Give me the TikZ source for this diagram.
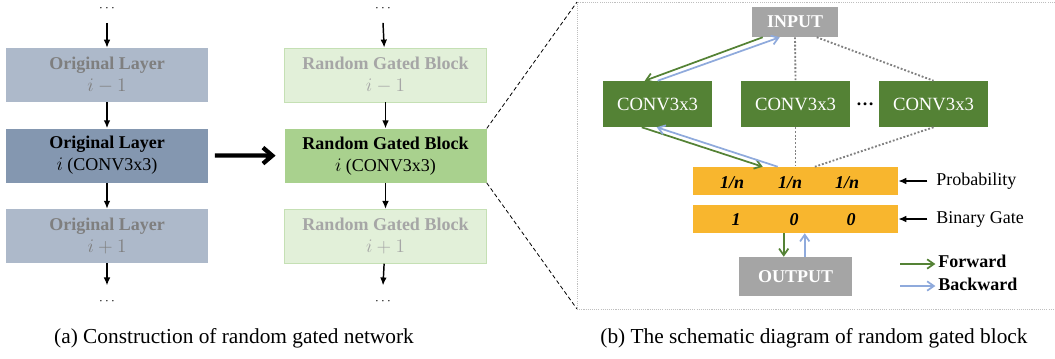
\documentclass[tikz,border=0pt]{standalone}
\usepackage{fontspec}
\setmainfont{Liberation Serif}
\usetikzlibrary{arrows.meta,positioning,calc}
\definecolor{OrigPale}{HTML}{ADB9CA}
\definecolor{OrigDark}{HTML}{8497B0}
\definecolor{GatePale}{HTML}{E2F0D9}
\definecolor{GateEdge}{HTML}{C5E0B4}
\definecolor{GateMid}{HTML}{A9D18E}
\definecolor{ConvGreen}{HTML}{548235}
\definecolor{BoxGrey}{HTML}{A5A5A5}
\definecolor{FadeOne}{HTML}{7F7F7F}
\definecolor{FadeTwo}{HTML}{A6A6A6}
\definecolor{BarOrange}{HTML}{F8B62E}
\definecolor{Fwd}{HTML}{548235}
\definecolor{Bwd}{HTML}{8FAADC}
\definecolor{LinkGrey}{HTML}{808080}
\definecolor{FrameGrey}{HTML}{BFBFBF}
\newcommand{\figfont}{\fontsize{13.5pt}{16.5pt}\selectfont}
\newcommand{\capfont}{\fontsize{16pt}{19pt}\selectfont}
\tikzset{
  layer/.style={
    minimum width=151.5pt, minimum height=40.5pt, inner sep=0pt,
    align=center, font=\figfont\bfseries
  },
  origLayer/.style={layer,fill=OrigPale,text=FadeOne},
  origLayerStrong/.style={layer,fill=OrigDark},
  gateLayer/.style={layer,fill=GatePale,draw=GateEdge,line width=.6pt,text=FadeTwo},
  gateLayerStrong/.style={layer,fill=GateMid},
  conv/.style={fill=ConvGreen,text=white,minimum width=81.75pt,minimum height=34.5pt,
    inner sep=0pt,font=\fontsize{14pt}{16pt}\selectfont},
  greyBox/.style={fill=BoxGrey,text=white,inner sep=0pt,font=\figfont\bfseries},
  bar/.style={fill=BarOrange,minimum width=153.75pt,minimum height=21pt,inner sep=0pt},
  cell/.style={font=\figfont\bfseries\itshape,inner sep=0pt},
  lbl/.style={font=\figfont,inner sep=0pt,anchor=west},
  arr/.style={-{Latex[length=6pt,width=5pt]},line width=1.1pt},
  bigArr/.style={-{Straight Barb[length=7pt,width=12pt]},line width=3.2pt},
  fwd/.style={-{Straight Barb[length=5pt,width=7pt]},draw=Fwd,line width=1.3pt},
  bwd/.style={-{Straight Barb[length=5pt,width=7pt]},draw=Bwd,line width=1.3pt},
  link/.style={draw=LinkGrey,line width=1.4pt,dash pattern=on 1.4pt off 1.4pt},
  zoomLine/.style={line width=.6pt,dash pattern=on 3pt off 2pt},
  frameLine/.style={draw=FrameGrey,line width=.6pt,dash pattern=on .8pt off .8pt}
}
\begin{document}
\begin{tikzpicture}[x=0.75pt,y=-0.75pt,node distance=19.5pt]
  \useasboundingbox (0,0) rectangle (1055,358);
  % (a) original network
  \node[origLayer] (origA) at (107,75) {Original Layer\\$i-1$};
  \node[origLayerStrong,below=of origA] (origB) {Original Layer\\\normalfont$i$ (CONV3x3)};
  \node[origLayer,below=of origB] (origC) {Original Layer\\$i+1$};
  \node[inner sep=0pt] (origTop) at (107,9) {$\cdots$};
  \node[inner sep=0pt] (origEnd) at (107,302) {$\cdots$};
  \draw[arr] ([yshift=-8pt]origTop.south) -- (origA);
  \draw[arr] (origA) -- (origB);
  \draw[arr] (origB) -- (origC);
  \draw[arr] (origC) -- ([yshift=10pt]origEnd.north);
  % random gated network
  \node[gateLayer] (gateA) at (385.5,75) {Random Gated Block\\$i-1$};
  \node[gateLayerStrong,below=of gateA] (gateB) {Random Gated Block\\\normalfont$i$ (CONV3x3)};
  \node[gateLayer,below=of gateB] (gateC) {Random Gated Block\\$i+1$};
  \node[inner sep=0pt] (gateTop) at (383,9) {$\cdots$};
  \node[inner sep=0pt] (gateEnd) at (383,302) {$\cdots$};
  \draw[arr] ([yshift=-8pt]gateTop.south) -- (gateA);
  \draw[arr] (gateA) -- (gateB);
  \draw[arr] (gateB) -- (gateC);
  \draw[arr] (gateC) -- ([yshift=10pt]gateEnd.north);
  \draw[bigArr,shorten <=5pt,shorten >=6.5pt] (origB) -- (gateB);
  % (b) zoomed block
  \coordinate (frameTop) at (577,2);
  \coordinate (frameBot) at (577,309);
  \draw[frameLine] (1055,2) -- (frameTop) -- (frameBot) -- (1055,309);
  \draw[zoomLine] (gateB.north east) -- (frameTop);
  \draw[zoomLine] (gateB.south east) -- (frameBot);
  \node[greyBox,minimum width=64.5pt,minimum height=22.5pt] (input) at (795,22) {INPUT};
  \node[conv] (convA) at (657.5,104) {CONV3x3};
  \node[conv] (convB) at (795.5,104) {CONV3x3};
  \node[conv] (convC) at (933.5,104) {CONV3x3};
  \node[inner sep=0pt,font=\figfont\bfseries] (convDots) at (865,104) {\dots};
  \node[bar] (probBar) at (795.5,181) {};
  \node[bar] (gateBar) at (795.5,219) {};
  \node[cell] (pA) at (732,183) {1/n};
  \node[cell] (pB) at (790,183) {1/n};
  \node[cell] (pC) at (847,183) {1/n};
  \node[cell] (bA) at (736,220) {1};
  \node[cell] (bB) at (794,220) {0};
  \node[cell] (bC) at (851,220) {0};
  \node[greyBox,minimum width=84.75pt,minimum height=29.25pt] (output) at (795.5,276.5) {OUTPUT};
  \draw[link] (input.south) -- (convB.north);
  \draw[link] ([xshift=48.75pt]input.south west) -- (convC.north);
  \draw[link] (convB.south) -- (probBar.north);
  \draw[link] (convC.south) -- ([xshift=91.5pt]probBar.north west);
  \draw[fwd] ([xshift=8.25pt]input.south west) -- ([xshift=31.5pt]convA.north west);
  \draw[bwd] ([xshift=41.25pt]convA.north west) -- ([xshift=21pt]input.south west);
  \draw[fwd] ([xshift=29.25pt]convA.south west) -- ([xshift=52.5pt]probBar.north west);
  \draw[bwd] ([xshift=63.75pt]probBar.north west) -- ([xshift=40.5pt]convA.south west);
  \draw[fwd] ([xshift=68.25pt]gateBar.south west) -- ([xshift=33.75pt]output.north west);
  \draw[bwd] ([xshift=49.5pt]output.north west) -- ([xshift=84pt]gateBar.south west);
  \node[lbl] (probLbl) at (936,181) {Probability};
  \node[lbl] (gateLbl) at (936,219) {Binary Gate};
  \draw[arr,shorten <=6.5pt] (probLbl.west) -- (probBar.east);
  \draw[arr,shorten <=6.5pt] (gateLbl.west) -- (gateBar.east);
  \node[lbl,font=\figfont\bfseries] (fwdLbl) at (938,261) {Forward};
  \node[lbl,font=\figfont\bfseries] (bwdLbl) at (938,284) {Backward};
  \coordinate (fwdTail) at (900,264);
  \coordinate (bwdTail) at (900,286);
  \draw[fwd,shorten >=2pt] (fwdTail) -- (fwdTail -| fwdLbl.west);
  \draw[bwd,shorten >=2pt] (bwdTail) -- (bwdTail -| bwdLbl.west);
  % captions
  \node[font=\capfont] (capA) at (234,338) {(a) Construction of random gated network};
  \node[font=\capfont] (capB) at (814,338) {(b) The schematic diagram of random gated block};
\end{tikzpicture}
\end{document}
